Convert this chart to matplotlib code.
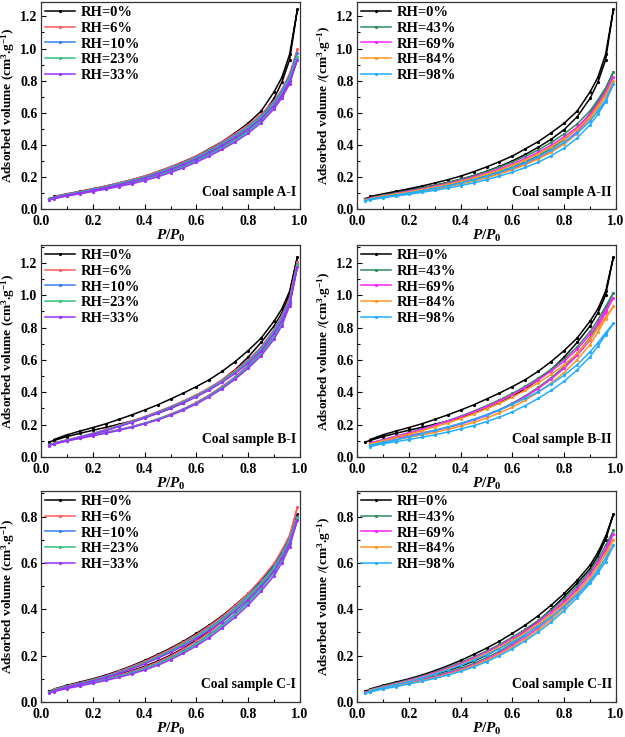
import numpy as np
import matplotlib
matplotlib.use("Agg")
import matplotlib.pyplot as plt
from matplotlib.ticker import MultipleLocator, FormatStrFormatter

plt.rcParams['font.family'] = ['Liberation Serif', 'DejaVu Serif']
plt.rcParams['font.weight'] = 'bold'
plt.rcParams['mathtext.fontset'] = 'custom'
plt.rcParams['mathtext.rm'] = 'Liberation Serif:bold'
plt.rcParams['mathtext.it'] = 'Liberation Serif:italic:bold'
plt.rcParams['mathtext.bf'] = 'Liberation Serif:bold'
plt.rcParams['mathtext.default'] = 'rm'

# ---------------- data ----------------
ads_x = [0.03, 0.05, 0.1, 0.15, 0.2, 0.25, 0.3, 0.35, 0.4, 0.45, 0.5, 0.55,
         0.6, 0.65, 0.7, 0.75, 0.8, 0.85, 0.9, 0.93, 0.96, 0.99]
des_x = [0.96, 0.93, 0.9, 0.85, 0.8, 0.75, 0.7, 0.65, 0.6, 0.55, 0.5, 0.45,
         0.4, 0.35, 0.3, 0.25, 0.2, 0.15, 0.1, 0.05]

# Sample A
A_0_ads = [.065, .072, .088, .102, .117, .132, .148, .165, .185, .208, .235, .265, .300, .340, .385, .435, .495, .575, .690, .790, .930, 1.245]
A_0_des = [.965, .820, .730, .610, .535, .475, .420, .375, .330, .295, .262, .232, .205, .182, .162, .143, .126, .110, .094, .078]
A_6_ads = [.062, .070, .087, .101, .117, .133, .150, .168, .190, .214, .243, .275, .312, .352, .395, .442, .498, .565, .655, .725, .820, .995]
A_6_des = [.845, .745, .675, .590, .525, .470, .418, .372, .330, .293, .262, .232, .205, .182, .161, .142, .125, .109, .094, .076]
A_10_ads = [.060, .068, .085, .099, .114, .130, .146, .164, .185, .209, .237, .268, .304, .343, .386, .433, .488, .555, .645, .715, .805, .975]
A_10_des = [.830, .735, .665, .580, .515, .460, .410, .365, .323, .287, .256, .227, .200, .178, .158, .139, .122, .106, .091, .073]
A_23_ads = [.059, .066, .083, .097, .112, .127, .143, .161, .181, .205, .232, .263, .298, .337, .380, .427, .482, .548, .638, .705, .795, .950]
A_23_des = [.815, .722, .655, .572, .508, .453, .404, .359, .318, .283, .252, .223, .197, .175, .155, .136, .119, .104, .089, .071]
A_33_ads = [.057, .064, .081, .095, .109, .124, .140, .157, .177, .200, .227, .257, .292, .330, .372, .418, .472, .537, .625, .692, .780, .930]
A_33_des = [.800, .710, .645, .563, .500, .446, .398, .353, .313, .278, .247, .219, .193, .171, .151, .133, .116, .101, .086, .068]
A_43_ads = [.060, .066, .080, .092, .105, .118, .132, .148, .166, .186, .208, .233, .262, .295, .333, .378, .432, .502, .595, .665, .745, .855]
A_43_des = [.755, .680, .612, .530, .468, .415, .368, .328, .292, .261, .233, .208, .185, .165, .147, .131, .115, .100, .086, .070]
A_69_ads = [.057, .063, .077, .089, .101, .114, .128, .143, .160, .179, .200, .224, .252, .284, .320, .363, .415, .482, .572, .640, .720, .825]
A_69_des = [.730, .655, .590, .510, .450, .398, .353, .315, .280, .250, .223, .199, .177, .158, .141, .125, .110, .096, .082, .066]
A_84_ads = [.055, .061, .075, .086, .098, .111, .124, .139, .156, .174, .195, .218, .245, .276, .312, .354, .405, .470, .558, .625, .705, .800]
A_84_des = [.712, .640, .575, .497, .438, .388, .344, .306, .272, .243, .217, .193, .172, .153, .137, .121, .107, .093, .080, .064]
A_98_ads = [.052, .057, .070, .081, .092, .104, .116, .130, .146, .163, .183, .205, .230, .259, .292, .332, .380, .442, .525, .590, .668, .780]
A_98_des = [.680, .610, .548, .472, .415, .367, .325, .289, .257, .229, .204, .182, .162, .145, .129, .114, .100, .087, .075, .060]

# Sample B
nan = np.nan
B_0_ads = [.092, .102, .126, .146, .165, .183, .202, .222, .245, .270, .300, .335, .375, .422, .477, .540, .618, .708, .810, .890, 1.000, 1.237]
B_0_des = [1.025, .915, .840, .735, .658, .590, .530, .478, .435, .395, .358, .322, .290, .260, .232, .205, .182, .160, .137, .108]
B_6_ads = [.076, .085, .104, .120, .136, .152, .169, .188, .210, .235, .265, .298, .338, .384, .437, .497, .568, .648, .752, .840, .965, 1.205]
B_6_des = [.985, .875, .790, .680, .600, .535, .478, .428, .385, .347, .312, .280, .250, .222, .195, .170, .147, .125, .106, .087]
B_10_ads = [.074, .083, .102, .118, .134, .150, .167, .186, .208, .233, .262, .295, .334, .380, .432, .492, .562, .640, .745, .830, .955, 1.190]
B_10_des = [.972, .865, .782, .672, .593, .528, .472, .423, .380, .342, .308, .276, .246, .218, .192, .167, .145, .124, .104, .085]
B_23_ads = [.073, .082, .101, .117, .133, .149, .166, .185, .207, .232, .260, .293, .331, .376, .428, .487, .556, .634, .738, .822, .945, 1.185]
B_23_des = [.962, .855, .775, .666, .587, .523, .468, .419, .377, .339, .305, .273, .243, .215, .190, .165, .143, .122, .103, .084]
B_33_ads = [.071, .080, .099, .115, .131, .147, .164, .183, .205, .229, .257, .290, .328, .372, .423, .481, .549, .625, .728, .812, .935, 1.175]
B_33_des = [.950, .845, .765, .657, .580, .516, .462, .414, .372, .335, .301, .270, .240, .213, .187, .163, .141, .121, .101, .082]
B_43_ads = [nan, .080, .100, .116, .132, .148, .165, .184, .206, .231, .260, .293, .332, .378, .430, .490, .558, .640, .738, .820, .915, 1.015]
B_43_des = [.930, .848, .775, .680, .605, .542, .487, .438, .393, .353, .317, .283, .252, .224, .198, .173, .150, .128, .107, .087]
B_69_ads = [nan, .078, .098, .114, .130, .146, .163, .182, .204, .228, .256, .289, .327, .372, .423, .482, .548, .628, .722, .800, .892, .985]
B_69_des = [.905, .828, .758, .665, .592, .531, .477, .429, .385, .346, .311, .278, .248, .220, .195, .170, .148, .127, .106, .086]
B_84_ads = [nan, .072, .091, .106, .121, .136, .152, .170, .191, .214, .241, .272, .308, .351, .400, .457, .522, .600, .695, .770, .855, .930]
B_84_des = [.865, .795, .730, .640, .570, .511, .459, .412, .370, .332, .298, .266, .237, .210, .186, .162, .141, .121, .101, .081]
B_98_ads = [nan, .064, .082, .095, .108, .122, .137, .154, .173, .194, .218, .246, .279, .318, .362, .412, .468, .538, .620, .685, .755, .825]
B_98_des = [.768, .705, .650, .570, .505, .451, .404, .362, .325, .291, .261, .233, .208, .185, .164, .144, .125, .107, .090, .072]

# Sample C
C_0_ads = [.047, .053, .067, .079, .092, .105, .119, .135, .154, .176, .202, .232, .267, .306, .350, .400, .455, .512, .575, .630, .700, .810]
C_0_des = [.715, .645, .590, .525, .468, .418, .372, .332, .296, .262, .232, .205, .179, .156, .135, .116, .100, .086, .072, .056]
C_6_ads = [.044, .050, .064, .076, .089, .102, .116, .132, .150, .172, .198, .228, .262, .300, .344, .393, .448, .508, .578, .632, .705, .840]
C_6_des = [.720, .655, .598, .530, .468, .416, .368, .328, .291, .258, .228, .201, .175, .153, .132, .113, .097, .083, .070, .054]
C_10_ads = [.042, .048, .062, .073, .086, .098, .112, .127, .145, .166, .191, .220, .253, .291, .333, .380, .435, .495, .565, .620, .690, .800]
C_10_des = [.705, .640, .585, .518, .458, .406, .360, .320, .284, .251, .222, .195, .170, .148, .128, .110, .094, .080, .067, .052]
C_23_ads = [.041, .047, .060, .071, .084, .096, .110, .125, .142, .163, .188, .216, .249, .286, .328, .375, .428, .488, .557, .612, .682, .795]
C_23_des = [.698, .634, .578, .512, .452, .401, .355, .316, .280, .248, .219, .192, .168, .146, .126, .108, .093, .079, .066, .051]
C_33_ads = [.040, .045, .058, .069, .081, .093, .106, .121, .138, .158, .182, .210, .242, .278, .320, .366, .418, .478, .545, .600, .670, .785]
C_33_des = [.685, .622, .565, .500, .442, .392, .347, .309, .274, .242, .214, .188, .164, .143, .123, .106, .091, .077, .064, .049]
C_43_ads = [.043, .049, .062, .074, .086, .098, .112, .127, .145, .166, .191, .219, .252, .289, .331, .377, .430, .488, .552, .600, .655, .740]
C_43_des = [.675, .615, .565, .500, .445, .396, .352, .314, .280, .248, .220, .194, .170, .149, .129, .111, .096, .082, .068, .053]
C_69_ads = [.041, .047, .060, .071, .083, .095, .108, .123, .140, .160, .184, .212, .244, .280, .320, .365, .416, .474, .538, .585, .640, .725]
C_69_des = [.660, .602, .552, .488, .434, .387, .344, .307, .273, .242, .215, .189, .166, .145, .126, .108, .093, .079, .066, .051]
C_84_ads = [.040, .045, .058, .069, .081, .092, .105, .119, .136, .156, .179, .206, .237, .272, .311, .355, .405, .462, .525, .570, .622, .700]
C_84_des = [.640, .585, .537, .475, .423, .377, .335, .299, .266, .236, .209, .184, .161, .141, .122, .105, .090, .077, .064, .050]
C_98_ads = [.038, .043, .056, .066, .078, .089, .102, .116, .132, .151, .174, .200, .230, .264, .302, .345, .394, .450, .512, .556, .605, .675]
C_98_des = [.620, .568, .522, .462, .411, .366, .326, .291, .259, .230, .204, .180, .158, .138, .120, .103, .088, .075, .062, .048]

labels_low = ['RH=0%', 'RH=6%', 'RH=10%', 'RH=23%', 'RH=33%']
labels_high = ['RH=0%', 'RH=43%', 'RH=69%', 'RH=84%', 'RH=98%']
colors_low = ['#000000', '#FF5A5A', '#3580EE', '#33C27A', '#9933FF']
colors_high = ['#000000', '#2E8B5E', '#FF22FF', '#FF9522', '#22AEFF']

panel_titles = ['Coal sample A-I', 'Coal sample A-II',
                'Coal sample B-I', 'Coal sample B-II',
                'Coal sample C-I', 'Coal sample C-II']

panels = [
    [(A_0_ads, A_0_des), (A_6_ads, A_6_des), (A_10_ads, A_10_des), (A_23_ads, A_23_des), (A_33_ads, A_33_des)],
    [(A_0_ads, A_0_des), (A_43_ads, A_43_des), (A_69_ads, A_69_des), (A_84_ads, A_84_des), (A_98_ads, A_98_des)],
    [(B_0_ads, B_0_des), (B_6_ads, B_6_des), (B_10_ads, B_10_des), (B_23_ads, B_23_des), (B_33_ads, B_33_des)],
    [(B_0_ads, B_0_des), (B_43_ads, B_43_des), (B_69_ads, B_69_des), (B_84_ads, B_84_des), (B_98_ads, B_98_des)],
    [(C_0_ads, C_0_des), (C_6_ads, C_6_des), (C_10_ads, C_10_des), (C_23_ads, C_23_des), (C_33_ads, C_33_des)],
    [(C_0_ads, C_0_des), (C_43_ads, C_43_des), (C_69_ads, C_69_des), (C_84_ads, C_84_des), (C_98_ads, C_98_des)],
]
ymax_rows = [1.29, 1.31, 0.91]

# ---------------- figure ----------------
W, H = 625, 737
fig = plt.figure(figsize=(W / 100, H / 100), dpi=100)

col_left = [41, 357]
col_w = 259
row_tb = [(2, 209), (245, 457), (491, 702)]

for i in range(6):
    r, c = divmod(i, 2)
    top, bot = row_tb[r]
    ax = fig.add_axes([col_left[c] / W, 1 - bot / H, col_w / W, (bot - top) / H])
    labels = labels_low if c == 0 else labels_high
    colors = colors_low if c == 0 else colors_high
    for (ads, des), lab, col in zip(panels[i], labels, colors):
        xs = list(ads_x) + list(des_x)
        ys = list(ads) + list(des)
        ax.plot(xs, ys, color=col, lw=1.1, marker='o', ms=1.3, label=lab)
    ax.set_xlim(0, 1.0)
    ax.set_ylim(0, ymax_rows[r])
    ax.xaxis.set_major_locator(MultipleLocator(0.2))
    ax.xaxis.set_minor_locator(MultipleLocator(0.1))
    ax.yaxis.set_major_locator(MultipleLocator(0.2))
    ax.yaxis.set_minor_locator(MultipleLocator(0.1))
    ax.tick_params(which='both', direction='in', labelsize=10, width=0.8)
    ax.tick_params(axis='x', pad=4)
    ax.tick_params(axis='y', pad=2.5)
    ax.tick_params(which='major', length=3.5)
    ax.tick_params(which='minor', length=2)
    ax.xaxis.set_major_formatter(FormatStrFormatter('%.1f'))
    ax.yaxis.set_major_formatter(FormatStrFormatter('%.1f'))
    for lbl in ax.get_xticklabels() + ax.get_yticklabels():
        lbl.set_fontweight('bold')
    for s in ax.spines.values():
        s.set_linewidth(0.9)
        s.set_color('#333333')
    ax.set_xlabel(r'$\mathit{P}$/$\mathit{P}_{0}$', fontsize=11, fontweight='bold', labelpad=0)
    if c == 0:
        ax.set_ylabel(r'Adsorbed volume (cm$^{3}$.g$^{-1}$)', fontsize=9.5, fontweight='bold', labelpad=2)
    else:
        ax.set_ylabel(r'Adsorbed volume /(cm$^{3}$.g$^{-1}$)', fontsize=9.5, fontweight='bold', labelpad=2)
    ax.text(0.985, 0.05, panel_titles[i], transform=ax.transAxes, ha='right', va='bottom',
            fontsize=9.8, fontweight='bold')
    ax.legend(loc='upper left', frameon=False, handlelength=2.1,
              labelspacing=0.18, borderaxespad=0.1, borderpad=0.15, handletextpad=0.4,
              prop={'weight': 'bold', 'size': 10.5})

fig.savefig('out.png', dpi=100)
